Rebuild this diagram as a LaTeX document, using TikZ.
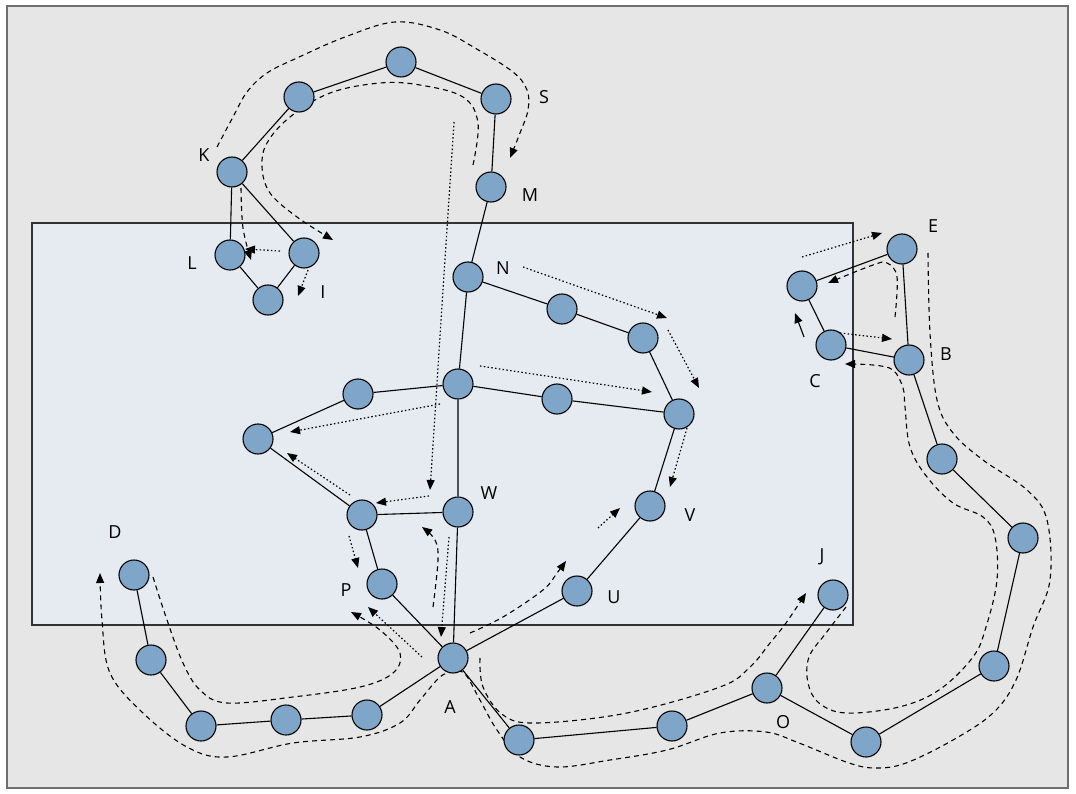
\documentclass[tikz,border=0pt]{standalone}
\usepackage{fontspec}
\setmainfont{Open Sans}
\usetikzlibrary{arrows.meta}
\definecolor{bgout}{HTML}{E6E6E6}
\definecolor{bgin}{HTML}{E5EBF1}
\definecolor{nodeblue}{HTML}{7FA6C8}
\definecolor{framegray}{HTML}{6E6E6E}
\begin{document}
\begin{tikzpicture}[x=1pt,y=-1pt,
  vtx/.style={circle, draw=black, line width=1.1pt, fill=nodeblue, minimum size=30pt, inner sep=0pt},
  lbl/.style={font=\fontsize{18pt}{20pt}\selectfont, inner sep=0pt},
  edge/.style={line width=1.1pt},
  dsh/.style={line width=1.1pt, dash pattern=on 5pt off 4pt},
  dtt/.style={line width=1.2pt, dash pattern=on 1.5pt off 2.3pt},
  tip/.style={-{Triangle[length=10pt,width=8pt]}}]
\useasboundingbox (0,0) rectangle (1076,794);
\fill[white] (0,0) rectangle (1076,794);
\draw[framegray, line width=2pt, fill=bgout] (7,6) rectangle (1068,788);
\draw[black!80, line width=1.3pt, fill=bgin] (32,223) rectangle (853,625);

% dashed flows
\draw[dsh,tip] plot[smooth,tension=0.6] coordinates {(217,147) (233,117) (247,92) (267,73) (297,58) (345,37) (395,22) (440,30) (475,48) (513,72) (527,90) (528,110) (520,133) (510,158)};
\draw[dsh,tip] plot[smooth,tension=0.6] coordinates {(473,165) (478,123) (463,97) (420,85) (380,83) (330,93) (290,117) (267,143) (262,167) (270,193) (297,217) (333,240)};
\draw[dsh,tip] plot[smooth,tension=0.6] coordinates {(241,188) (243,228) (251,260)};
\draw[dsh,tip] plot[smooth,tension=0.6] coordinates {(433,607) (438,560) (435,540) (422,527)};
\draw[dsh,tip] plot[smooth,tension=0.6] coordinates {(153,577) (167,620) (183,663) (200,690) (227,703) (293,697) (360,687) (393,673) (400,653) (380,630) (351,612)};
\draw[dsh,tip] plot[smooth,tension=0.6] coordinates {(928,253) (930,333) (937,400) (953,433) (983,460) (1027,490) (1047,520) (1050,580) (1033,627) (1016,680) (993,713) (953,740) (906,763) (876,768) (849,763) (799,743) (766,732) (720,733) (667,750) (610,760) (557,767) (520,757) (497,730) (480,700) (465,674) (453,672) (440,677) (420,700) (400,723) (360,737) (293,743) (227,757) (187,747) (143,713) (110,673) (102,620) (100,573)};
\draw[dsh,tip] plot[smooth,tension=0.6] coordinates {(480,658) (483,687) (503,715) (537,723) (627,713) (720,687) (750,667) (770,643) (786,623) (806,593)};
\draw[dsh,tip] plot[smooth,tension=0.6] coordinates {(470,633) (503,617) (543,590) (557,573) (566,561)};
\draw[dsh,tip] plot[smooth,tension=0.6] coordinates {(846,607) (826,633) (809,657) (808,683) (819,703) (846,713) (899,707) (939,690) (973,657) (986,627) (997,580) (995,537) (983,517) (953,503) (927,477) (910,447) (905,407) (903,388) (893,370) (873,365) (845,364)};
\draw[dsh,tip] plot[smooth,tension=0.6] coordinates {(895,317) (897,277) (887,263) (873,265) (828,283)};

% dotted flows
\draw[dtt,tip] (280,251) -- (245,249);
\draw[dtt,tip] (308,270) -- (298,296);
\draw[dtt,tip] (454,122) -- (430,490);
\draw[dtt,tip] (429,496) -- (376,503);
\draw[dtt,tip] (440,404) -- (290,432);
\draw[dtt,tip] (350,495) -- (287,453);
\draw[dtt,tip] (349,536) -- (358,568);
\draw[dtt,tip] (449,537) -- (441,637);
\draw[dtt,tip] (422,657) -- (368,607);
\draw[dtt,tip] (598,528) -- (620,508);
\draw[dtt,tip] (802,257) -- (882,233);
\draw[dtt,tip] (840,333) -- (892,339);
\draw[dtt,tip] (523,267) -- (667,318);
\draw[dtt,tip] (668,330) -- (699,388);
\draw[dtt,tip] (480,366) -- (652,392);
\draw[dtt,tip] (687,428) -- (670,487);
\draw[line width=1.1pt,tip] (804,337) -- (795,313);

% nodes
\node[vtx] (K) at (232,172) {};
\node[vtx] (n2) at (299,97) {};
\node[vtx] (n3) at (401,62) {};
\node[vtx] (S) at (496,99) {};
\node[vtx] (M) at (491,187) {};
\node[vtx] (L) at (230,255) {};
\node[vtx] (I) at (304,253) {};
\node[vtx] (Lb) at (268,300) {};
\node[vtx] (N) at (468,277) {};
\node[vtx] (N1) at (562,309) {};
\node[vtx] (N2) at (643,338) {};
\node[vtx] (Vb) at (679,414) {};
\node[vtx] (V) at (650,506) {};
\node[vtx] (U) at (577,591) {};
\node[vtx] (A) at (453,658) {};
\node[vtx] (X) at (458,384) {};
\node[vtx] (X1) at (358,394) {};
\node[vtx] (X2) at (258,439) {};
\node[vtx] (XM) at (557,399) {};
\node[vtx] (Q) at (362,515) {};
\node[vtx] (W) at (458,512) {};
\node[vtx] (P) at (382,584) {};
\node[vtx] (D) at (134,575) {};
\node[vtx] (D1) at (151,660) {};
\node[vtx] (D2) at (201,726) {};
\node[vtx] (D3) at (286,720) {};
\node[vtx] (D4) at (367,715) {};
\node[vtx] (R1) at (519,740) {};
\node[vtx] (R2) at (672,726) {};
\node[vtx] (O) at (767,688) {};
\node[vtx] (J) at (833,595) {};
\node[vtx] (R3) at (866,742) {};
\node[vtx] (R4) at (994,666) {};
\node[vtx] (R5) at (1023,538) {};
\node[vtx] (R6) at (942,459) {};
\node[vtx] (B) at (909,360) {};
\node[vtx] (E) at (902,249) {};
\node[vtx] (EL) at (802,286) {};
\node[vtx] (C) at (831,345) {};

% edges
\draw[edge] (K)--(n2) (n2)--(n3) (n3)--(S) (S)--(M) (M)--(N) (N)--(N1) (N1)--(N2) (N2)--(Vb) (Vb)--(V) (V)--(U) (U)--(A)
  (N)--(X) (X)--(X1) (X1)--(X2) (X2)--(Q) (Q)--(W) (X)--(XM) (XM)--(Vb) (X)--(W) (W)--(A) (Q)--(P) (P)--(A)
  (K)--(L) (K)--(I) (L)--(Lb) (I)--(Lb)
  (A)--(D4) (D4)--(D3) (D3)--(D2) (D2)--(D1) (D1)--(D)
  (A)--(R1) (R1)--(R2) (R2)--(O) (O)--(J) (O)--(R3) (R3)--(R4) (R4)--(R5) (R5)--(R6) (R6)--(B) (B)--(E) (E)--(EL) (EL)--(C) (C)--(B);

% labels
\node[lbl] (tK) at (204,155) {K};
\node[lbl] (tS) at (544,97) {S};
\node[lbl] (tM) at (530,195) {M};
\node[lbl] (tL) at (192,263) {L};
\node[lbl] (tI) at (323,292) {I};
\node[lbl] (tN) at (503,268) {N};
\node[lbl] (tE) at (933,226) {E};
\node[lbl] (tB) at (946,354) {B};
\node[lbl] (tC) at (815,381) {C};
\node[lbl] (tW) at (489,493) {W};
\node[lbl] (tD) at (115,532) {D};
\node[lbl] (tP) at (346,590) {P};
\node[lbl] (tV) at (690,515) {V};
\node[lbl] (tU) at (614,597) {U};
\node[lbl] (tJ) at (822,557) {J};
\node[lbl] (tA) at (450,707) {A};
\node[lbl] (tO) at (783,722) {O};
\end{tikzpicture}
\end{document}
